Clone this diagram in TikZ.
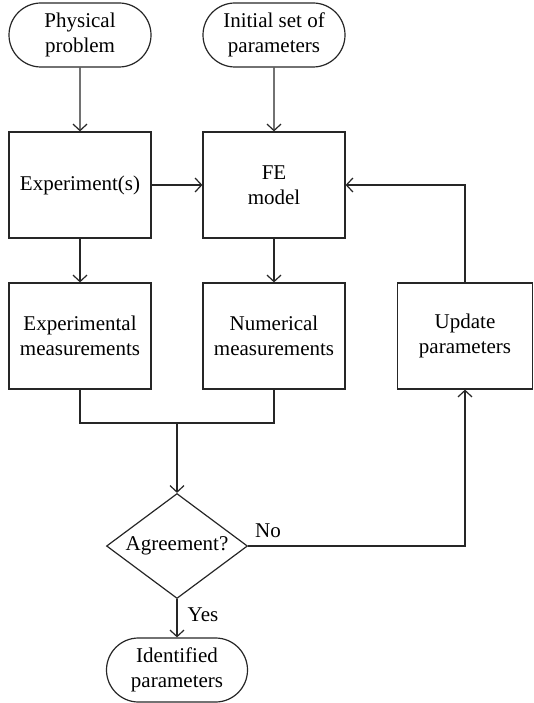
\documentclass[tikz,border=0pt]{standalone}
\usepackage{fontspec}
\setmainfont{Liberation Serif}
\usetikzlibrary{shapes.misc,shapes.geometric,arrows.meta}
\begin{document}
\begin{tikzpicture}[x=1pt,y=-1pt,
  font=\fontsize{21}{25}\selectfont,
  line width=1.2pt,
  every node/.style={align=center, text=black},
  box/.style={draw=black!85, rectangle, minimum width=142pt, minimum height=106pt, inner sep=0pt},
  term/.style={draw=black!85, rounded rectangle, minimum width=142pt, minimum height=64pt, inner sep=0pt},
  dec/.style={draw=black!85, diamond, minimum width=141pt, minimum height=105pt, inner sep=0pt, aspect=1.34},
  arr/.style={draw=black!85, -{Straight Barb[length=6.5pt,width=14pt]}},
  con/.style={draw=black!85}]
\useasboundingbox (0,0) rectangle (534,703);

\node[term] (phys) at (80,35) {Physical\\problem};
\node[term] (init) at (274,35) {Initial set of\\parameters};
\node[box] (exp) at (80,185) {Experiment(s)};
\node[box] (fe) at (274,185) {FE\\model};
\node[box] (expm) at (80,336) {Experimental\\measurements};
\node[box] (numm) at (274,336) {Numerical\\measurements};
\node[box, minimum width=135pt] (upd) at (465,336) {Update\\parameters};
\node[dec] (agr) at (177,546) {Agreement?};
\node[term, minimum width=141pt] (ident) at (177,670) {Identified\\parameters};
\coordinate (j) at (177,423);

\draw[arr] (phys) -- (exp);
\draw[arr] (init) -- (fe);
\draw[arr] (exp) -- (fe);
\draw[arr] (exp) -- (expm);
\draw[arr] (fe) -- (numm);
\draw[con] (expm.south) |- (j);
\draw[con] (numm.south) |- (j);
\draw[arr] (j) -- (agr.north);
\draw[arr] (agr.east) -| (upd.south);
\draw[arr] (upd.north) |- (fe.east);
\draw[arr] (agr.south) -- (ident.north);

\node (no) at (268,531) {No};
\node (yes) at (203,615) {Yes};
\end{tikzpicture}
\end{document}
